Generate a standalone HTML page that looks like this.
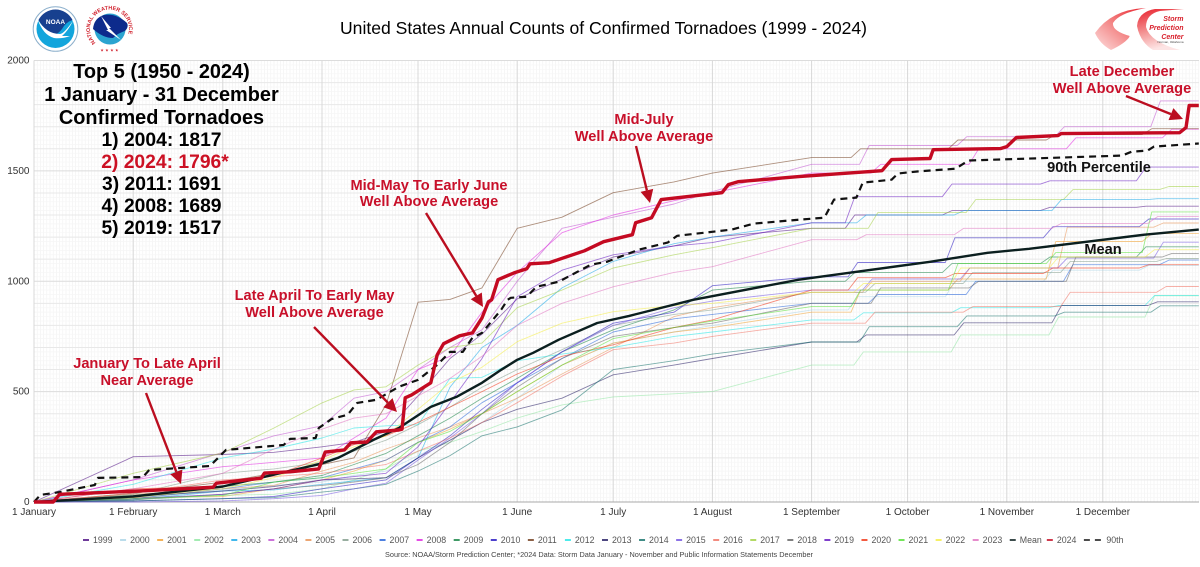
<!DOCTYPE html>
<html>
<head>
<meta charset="utf-8">
<title>United States Annual Counts of Confirmed Tornadoes (1999 - 2024)</title>
<style>
html,body{margin:0;padding:0;background:#fff;}
svg{display:block;}
text{font-family:"Liberation Sans",sans-serif;}
</style>
</head>
<body>
<svg id="chart" width="1200" height="567" viewBox="0 0 1200 567" xmlns="http://www.w3.org/2000/svg">
  <defs>
    <linearGradient id="spcg" x1="0" y1="1" x2="1" y2="0">
      <stop offset="0" stop-color="#fde0e0"/><stop offset="0.55" stop-color="#f27a7a"/><stop offset="1" stop-color="#e8202c"/>
    </linearGradient>
    <linearGradient id="spcc" x1="0" y1="0" x2="0.3" y2="1">
      <stop offset="0" stop-color="#e8202c"/><stop offset="0.6" stop-color="#f49a9a"/><stop offset="1" stop-color="#fde4e4"/>
    </linearGradient>
    <path id="nwsring" d="M95.7,42.8 A19.5,19.5 0 1 1 123.3,42.8"/>
  </defs>
  <rect width="1200" height="567" fill="#fff"/>

  <g id="grid"></g>
  <g id="axes"></g>
  <g id="series"></g>

  <g>
    <circle cx="55.5" cy="29" r="22.3" fill="#fff" stroke="#8db0cc" stroke-width="1"/>
    <circle cx="55.5" cy="29" r="19" fill="#12a5dc"/>
    <path d="M38.5,20 A19,19 0 0 1 72.5,20 Q66,22 62,29 Q58,34 55.5,34 Q46,33 38.5,20Z" fill="#17408f"/>
    <path d="M37.5,19 Q46,34 60,34 Q64,34 73.5,20 Q68,31 62,36 L70,36 Q62,39 54,38 Q43,35 37.5,19Z" fill="#fff"/>
    <text x="55.5" y="24" font-size="6.5" font-weight="bold" fill="#fff" text-anchor="middle">NOAA</text>
  </g>
  <g>
    <circle cx="110" cy="29" r="15.5" fill="#2aa4d0"/>
    <path d="M93,29 Q94,18 104,15 Q116,13 127,23 Q129,27 125,31 Q118,33 113,38 Q103,38 93,29Z" fill="#0d2b8c"/>
    <path d="M101,16 L111,28 L109,28 L121,40 L106,30 L108,30Z" fill="#fff"/>
    <text font-size="5.4" font-weight="bold" fill="#d0202c"><textPath href="#nwsring" startOffset="0">NATIONAL WEATHER SERVICE</textPath></text>
    <text x="109.5" y="51.5" font-size="4.2" fill="#d0202c" text-anchor="middle">★ ★ ★ ★</text>
  </g>
  <text x="603.5" y="34" font-size="17.5" fill="#000" text-anchor="middle" textLength="527" lengthAdjust="spacingAndGlyphs">United States Annual Counts of Confirmed Tornadoes (1999 - 2024)</text>
  <g>
    <path d="M1146,8 Q1112,9 1095,33 Q1100,44 1111,50 Q1126,43 1130,36 Q1112,31 1113,23 Q1119,13 1146,8Z" fill="url(#spcg)"/>
    <path d="M1135,13 Q1120,20 1124,28 Q1134,36 1126,46 Q1140,38 1128,27 Q1126,20 1135,13Z" fill="#fff"/>
    <path d="M1184,9 L1155,9 Q1138,12 1137,26 Q1140,42 1153,50 L1180,50 Q1150,42 1146,27 Q1146,14 1160,11Z" fill="url(#spcc)"/>
    <text x="1183.5" y="21" font-size="7" font-weight="bold" font-style="italic" fill="#d8202c" text-anchor="end">Storm</text>
    <text x="1183.5" y="30" font-size="7" font-weight="bold" font-style="italic" fill="#d8202c" text-anchor="end">Prediction</text>
    <text x="1183.5" y="39" font-size="7" font-weight="bold" font-style="italic" fill="#d8202c" text-anchor="end">Center</text>
    <text x="1183.5" y="43" font-size="3" fill="#444" text-anchor="end">Norman, Oklahoma</text>
  </g>

  <g font-size="19.3" font-weight="bold" fill="#000" text-anchor="middle">
    <text x="161.5" y="78" font-size="19.9">Top 5 (1950 - 2024)</text>
    <text x="161.5" y="101" font-size="19.9">1 January - 31 December</text>
    <text x="161.5" y="124" font-size="19.9">Confirmed Tornadoes</text>
    <text x="161.5" y="146">1) 2004: 1817</text>
    <text x="165" y="168" fill="#cc1124">2) 2024: 1796*</text>
    <text x="161.5" y="190">3) 2011: 1691</text>
    <text x="161.5" y="212">4) 2008: 1689</text>
    <text x="161.5" y="234">5) 2019: 1517</text>
  </g>

  <g font-size="14.6" font-weight="bold" fill="#c8102a" text-anchor="middle">
    <text x="147" y="368">January To Late April</text>
    <text x="147" y="385">Near Average</text>
    <text x="314.5" y="300">Late April To Early May</text>
    <text x="314.5" y="317">Well Above Average</text>
    <text x="429" y="190">Mid-May To Early June</text>
    <text x="429" y="206">Well Above Average</text>
    <text x="644" y="124">Mid-July</text>
    <text x="644" y="141">Well Above Average</text>
    <text x="1122" y="76">Late December</text>
    <text x="1122" y="93">Well Above Average</text>
  </g>
  <g font-size="14.6" font-weight="bold" fill="#111" text-anchor="middle">
    <text x="1099" y="172">90th Percentile</text>
    <text x="1103" y="254">Mean</text>
  </g>
  <g id="arrows"></g>
  <g id="legend"></g>
  <text x="599" y="557" font-size="7.6" fill="#444" text-anchor="middle" textLength="428" lengthAdjust="spacingAndGlyphs">Source: NOAA/Storm Prediction Center; *2024 Data: Storm Data January - November and Public Information Statements December</text>
</svg>
<script>
// ----- Chart data -----
const monthLabels = ["1 January","1 February","1 March","1 April","1 May","1 June","1 July","1 August","1 September","1 October","1 November","1 December"];
const monthDays = [0,31,59,90,120,151,181,212,243,273,304,334];
const yTicks = [0,500,1000,1500,2000];
const sampleDays = [0,31,59,75,90,100,110,120,130,140,151,165,181,200,212,243,273,304,334,364];

const y1999 = [0,205,215,225,250,270,320,480,650,760,920,1010,1110,1160,1200,1240,1300,1320,1335,1340];
const y2000 = [0,15,55,75,90,120,140,210,280,360,470,620,720,770,800,870,930,1000,1050,1072];
const y2001 = [0,20,25,60,100,140,190,270,330,400,500,620,720,770,790,860,960,1010,1180,1216];
const y2002 = [0,10,30,35,60,100,150,230,270,320,380,440,476,490,500,620,680,757,838,934];
const y2003 = [0,10,50,55,80,95,110,200,520,700,800,970,1090,1170,1200,1265,1300,1320,1370,1374];
const y2004 = [0,100,225,300,345,470,500,600,700,780,1000,1240,1290,1350,1406,1530,1615,1655,1700,1817];
const y2005 = [0,35,60,75,140,180,240,290,340,400,470,580,700,840,880,950,1000,1060,1245,1264];
const y2006 = [0,35,130,150,180,230,280,350,430,520,600,690,800,850,870,950,990,1040,1090,1103];
const y2007 = [0,15,60,90,110,150,190,270,340,450,540,650,770,830,850,900,940,1000,1075,1096];
const y2008 = [0,100,160,180,200,290,380,600,660,860,1040,1220,1300,1365,1400,1490,1530,1600,1650,1689];
const y2009 = [0,30,70,90,120,170,220,300,380,470,560,680,780,870,960,1000,1039,1080,1110,1156];
const y2010 = [0,5,15,25,60,80,100,200,300,420,540,680,810,860,980,1020,1085,1197,1247,1282];
const y2011 = [0,40,90,130,170,200,440,905,918,970,1240,1290,1401,1450,1490,1560,1600,1640,1665,1691];
const y2012 = [0,80,200,240,290,335,345,350,560,565,640,670,700,750,770,825,857,880,890,936];
const y2013 = [0,25,50,70,100,105,110,200,280,360,420,470,576,620,650,725,757,812,890,907];
const y2014 = [0,5,15,20,45,60,80,140,210,300,340,417,600,640,670,725,794,843,860,889];
const y2015 = [0,0,5,15,30,60,85,190,290,400,540,680,800,880,910,960,1010,1060,1105,1177];
const y2016 = [0,40,100,115,130,150,170,230,290,360,450,570,690,720,750,810,860,885,950,976];
const y2017 = [0,130,222,335,449,508,522,620,700,720,880,960,1060,1120,1152,1240,1311,1370,1415,1429];
const y2018 = [0,10,35,60,75,90,110,170,270,400,520,650,750,790,810,900,970,1000,1110,1126];
const y2019 = [0,15,35,60,100,115,130,250,450,650,930,1050,1120,1160,1175,1265,1383,1440,1455,1517];
const y2020 = [0,60,70,120,200,260,300,360,430,500,580,660,712,790,825,960,1016,1035,1060,1075];
const y2021 = [0,15,30,90,110,130,150,270,320,400,500,620,740,790,820,885,960,1080,1130,1314];
const y2022 = [0,20,60,110,190,250,300,420,540,610,726,810,862,890,900,950,990,1060,1110,1143];
const y2023 = [0,60,130,240,330,380,400,480,560,660,800,900,975,1040,1066,1188,1211,1240,1262,1293];

const meanDays = [0,31,59,90,95,106,114,124,132,140,146,151,156,164,176,186,206,239,257,280,298,311,347,364];
const meanValues = [0,25,70,175,200,281,335,431,476,540,599,644,676,735,811,843,916,1007,1043,1088,1129,1147,1211,1234];

const pctDays = [0,2,8,19,20,34,36,55,60,78,80,88,89,93,98,101,107,114,120,126,130,134,137,140,146,148,149,154,157,164,174,179,189,198,201,218,225,239,247,250,257,259,268,270,276,288,292,340,343,348,350,364];
const pctValues = [0,32,45,77,109,113,145,163,236,258,286,290,335,376,395,449,463,522,553,621,680,680,744,766,871,916,925,930,975,998,1075,1088,1143,1175,1206,1234,1261,1279,1288,1370,1379,1447,1460,1488,1497,1510,1547,1569,1587,1592,1610,1624];

const y2024Days = [0,6,8,35,56,57,71,72,80,89,91,97,99,104,107,114,115,116,118,124,126,128,133,137,140,142,143,145,150,154,155,161,172,178,187,188,193,196,215,217,220,239,265,268,280,281,302,304,307,320,321,358,360,361,364];
const y2024Values = [0,0,35,51,67,85,108,131,137,150,226,236,268,272,318,326,330,472,485,540,667,717,753,766,834,907,916,1007,1038,1057,1079,1084,1138,1179,1211,1265,1288,1370,1401,1438,1451,1474,1501,1551,1556,1596,1601,1610,1651,1660,1669,1673,1696,1796,1796];

const yearNames = ["1999","2000","2001","2002","2003","2004","2005","2006","2007","2008","2009","2010","2011","2012","2013","2014","2015","2016","2017","2018","2019","2020","2021","2022","2023"];
const yearValues = [y1999,y2000,y2001,y2002,y2003,y2004,y2005,y2006,y2007,y2008,y2009,y2010,y2011,y2012,y2013,y2014,y2015,y2016,y2017,y2018,y2019,y2020,y2021,y2022,y2023];
const yearColors = ["#4a0a80","#a8d4e6","#f0a030","#8ee6a0","#12a6e8","#c050d0","#e89050","#7f9a88","#2060d8","#e020e0","#108040","#2010c0","#703818","#20e6e6","#201860","#107068","#7050e0","#f07060","#a0d040","#606060","#6010c0","#f03010","#50e030","#f4ec40","#e070c0"];

// ----- Axis functions -----
const NS = "http://www.w3.org/2000/svg";
const plotLeft = 34, plotRight = 1199, plotTop = 60.5, plotBottom = 502, yMax = 2000, xPerDay = 3.2;
const stairsFromDay = 243;
function xScale(day){ return plotLeft + day * xPerDay; }
function yScale(v){ return plotBottom - v * (plotBottom - plotTop) / yMax; }
function make(tag, parent, attrs, txt){
  const el = document.createElementNS(NS, tag);
  for (const k in attrs) el.setAttribute(k, attrs[k]);
  if (txt !== undefined) el.textContent = txt;
  parent.appendChild(el);
  return el;
}
function pt(d, v){ return xScale(d).toFixed(1) + "," + yScale(v).toFixed(1); }
function pathFrom(days, values){
  return days.map((d,i)=>pt(d, values[i])).join(" ");
}
// Autumn counts climb in discrete outbreaks: draw those spans as hold-then-rise,
// with the rise placed differently per series so the years do not step in unison.
function stairPath(days, values, seriesIndex){
  const holdShare = 0.35 + 0.03 * (seriesIndex % 10);
  const out = [pt(days[0], values[0])];
  for (let i = 1; i < days.length; i++){
    if (days[i-1] >= stairsFromDay){
      const riseAt = days[i-1] + (days[i] - days[i-1]) * holdShare;
      out.push(pt(riseAt, values[i-1]));
      out.push(pt(riseAt + 3, values[i]));
    }
    out.push(pt(days[i], values[i]));
  }
  return out.join(" ");
}

// ----- Grid -----
const grid = document.getElementById("grid");
for (let d = 0; d <= 364; d++){
  const line = make("line", grid, {x1:xScale(d),x2:xScale(d),y1:plotTop,y2:plotBottom,stroke:"#f3f3f3","stroke-width":0.7});
  
  
}
for (let v = 0; v <= yMax; v += 20){
  const shade = v % 500 === 0 ? "#dcdcdc" : (v % 100 === 0 ? "#e8e8e8" : "#f6f6f6");
  const line = make("line", grid, {x1:plotLeft,x2:plotRight,y1:yScale(v),y2:yScale(v),stroke:shade,"stroke-width":v % 100 === 0 ? 1 : 0.7});
  
  
}
monthDays.forEach(d=>{
  const line = make("line", grid, {x1:xScale(d),x2:xScale(d),y1:plotTop,y2:plotBottom,stroke:"#d8d8d8","stroke-width":1});
  
  
});

// ----- Axes -----
const axes = document.getElementById("axes");
const baseLine = make("line", axes, {x1:plotLeft,x2:plotRight,y1:plotBottom,y2:plotBottom,stroke:"#a8a8a8","stroke-width":1});


monthLabels.forEach((label,i)=>{
  const t = make("text", axes, {x:xScale(monthDays[i]),y:515,"font-size":10,fill:"#333","text-anchor":"middle"}, label);
  
  
});
yTicks.forEach(v=>{
  const t = make("text", axes, {x:29.5,y:yScale(v)+3,"font-size":10,fill:"#333","text-anchor":"end"}, String(v));
  
  
});

// ----- Series -----
const seriesGroup = document.getElementById("series");
yearNames.forEach((name,i)=>{
  const line = make("polyline", seriesGroup, {points:stairPath(sampleDays, yearValues[i], i),fill:"none",stroke:yearColors[i],"stroke-width":0.9,"stroke-opacity":0.55,"stroke-linejoin":"round"});
  
  
});
const meanLine = make("polyline", seriesGroup, {points:pathFrom(meanDays, meanValues),fill:"none",stroke:"#0b1f1f","stroke-width":2.4,"stroke-linejoin":"round"});


const pctLine = make("polyline", seriesGroup, {points:pathFrom(pctDays, pctValues),fill:"none",stroke:"#111","stroke-width":2.2,"stroke-dasharray":"7 5","stroke-linejoin":"round"});


const line2024 = make("polyline", seriesGroup, {points:pathFrom(y2024Days, y2024Values),fill:"none",stroke:"#c40a22","stroke-width":3.4,"stroke-linejoin":"round"});



// ----- Arrows -----
const arrowStarts = [[146,393],[314,327],[426,213],[636,146],[1126,96]];
const arrowTips = [[181,484],[397,412],[483,307],[650,203],[1183,119]];
const arrows = document.getElementById("arrows");
arrowStarts.forEach((s,i)=>{
  const t = arrowTips[i];
  const dx = t[0]-s[0], dy = t[1]-s[1], len = Math.hypot(dx,dy), ux = dx/len, uy = dy/len;
  const bx = t[0]-ux*13, by = t[1]-uy*13;
  const shaft = make("line", arrows, {x1:s[0],y1:s[1],x2:bx,y2:by,stroke:"#bb0e20","stroke-width":2.4});
  
  
  const pts = [t[0]+","+t[1],(bx-uy*6.5)+","+(by+ux*6.5),(bx+uy*6.5)+","+(by-ux*6.5)].join(" ");
  const head = make("polygon", arrows, {points:pts,fill:"#bb0e20"});
  
  
});

// ----- Legend -----
const legendNames = yearNames.concat(["Mean","2024","90th"]);
const legendColors = yearColors.concat(["#0b1f1f","#c40a22","#111"]);
const legend = document.getElementById("legend");
legendNames.forEach((name,i)=>{
  const x = 83 + 37.07 * i;
  const entry = make("g", legend, {});
  
  
  const isDash = name === "90th";
  const swatch = make("line", entry, {x1:x,x2:x+(isDash?18:6),y1:540,y2:540,stroke:legendColors[i],"stroke-width":1.6,"stroke-dasharray":isDash?"6 5":"none"});
  
  
  const label = make("text", entry, {x:x+(isDash?22.5:10),y:543,"font-size":8.8,fill:"#555"}, name);
  
  
});
</script>
</body>
</html>
